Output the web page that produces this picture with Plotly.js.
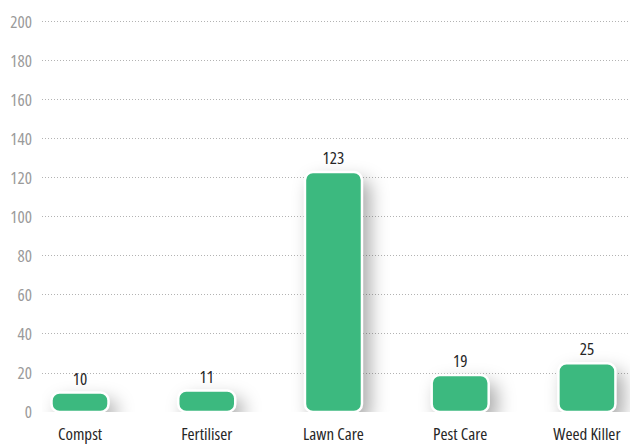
<!DOCTYPE html>
<html>
<head>
<meta charset="utf-8">
<script src="https://cdn.plot.ly/plotly-3.0.1.min.js"></script>
<style>
html, body { margin: 0; padding: 0; background: #fff; }
#chart { width: 630px; height: 444px; }
.main-svg text { font-stretch: 75% !important; }
.barlayer .trace path { filter: drop-shadow(7px 9px 9px rgba(0,0,0,0.33)); }
</style>
</head>
<body>
<div id="chart"></div>
<script>
const categories = ["Compst", "Fertiliser", "Lawn Care", "Pest Care", "Weed Killer"];
const values = [10, 11, 123, 19, 25];
const yTicks = [0, 20, 40, 60, 80, 100, 120, 140, 160, 180, 200];

const FONT = '"Open Sans", "Roboto Condensed", sans-serif';
const BAR_COLOR = '#3cb97f';

Plotly.newPlot('chart', [{
  type: 'bar',
  x: categories,
  y: values,
  base: 0,   // with an explicit base, Plotly rounds both ends of each bar
  text: values.map(String),
  textposition: 'outside',
  cliponaxis: false,
  textfont: { family: FONT, size: 17, color: '#262626' },
  marker: { color: BAR_COLOR, cornerradius: 8, line: { color: '#ffffff', width: 2.5 } },
  width: 0.45,
  hoverinfo: 'none'
}], {
  width: 630, height: 444,
  margin: { l: 42, r: 0, t: 20, b: 32 },
  paper_bgcolor: '#ffffff', plot_bgcolor: '#ffffff',
  showlegend: false,
  xaxis: {
    type: 'category',
    range: [-0.3, 4.34],
    showgrid: false, zeroline: false, showline: false,
    ticks: '',
    tickfont: { family: FONT, size: 17, color: '#262626' },
    ticklabelstandoff: 10
  },
  yaxis: {
    range: [0, 201],
    tickvals: yTicks,
    ticktext: yTicks.map(String),
    showgrid: true, gridcolor: '#b3b3b3', griddash: '1px,2px', gridwidth: 1,
    zeroline: false, showline: false, ticks: '',
    tickfont: { family: FONT, size: 17, color: '#9a9a9a' },
    ticklabelstandoff: 9
  }
}, { staticPlot: true, displayModeBar: false });
</script>
</body>
</html>
